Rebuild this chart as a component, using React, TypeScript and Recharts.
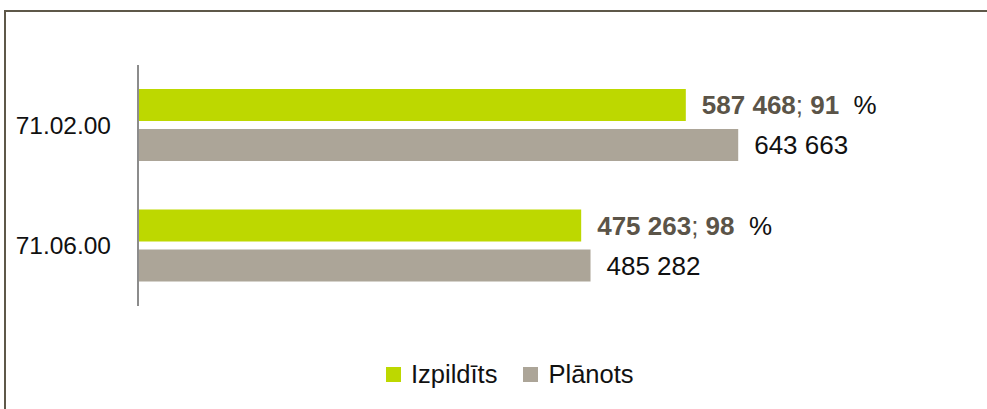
import React from 'react';
import { BarChart, Bar, XAxis, YAxis, Legend, LabelList } from 'recharts';

const categories = ['71.02.00', '71.06.00'];
const executed = [587468, 475263];
const planned = [643663, 485282];
const seriesNames = ['Izpildīts', 'Plānots'];

const GREEN = '#bdd800';
const GREY = '#aca598';
const LABEL_GREY = '#5b5448';
const FONT = '"Liberation Sans", Arial, Helvetica, sans-serif';

const data = categories.map((c, i) => ({
  name: c,
  executed: executed[i],
  planned: planned[i],
  pct: Math.round((executed[i] / planned[i]) * 100),
}));

const fmt = (v: number) => String(v).replace(/\B(?=(\d{3})+(?!\d))/g, ' ');

const ExecLabel = (props: any) => {
  const { x, y, width, height, index } = props;
  const d = data[index];
  return (
    <text
      x={x + width + 16}
      y={y + height / 2}
      dominantBaseline="central"
      fontFamily={FONT}
      fontSize={26}
    >
      <tspan fill={LABEL_GREY} fontWeight="bold">{fmt(d.executed)}</tspan>
      <tspan fill={LABEL_GREY}>; </tspan>
      <tspan fill={LABEL_GREY} fontWeight="bold">{d.pct}</tspan>
      <tspan fill="#111">{'\u00a0 %'}</tspan>
    </text>
  );
};

const PlanLabel = (props: any) => {
  const { x, y, width, height, value } = props;
  return (
    <text
      x={x + width + 16}
      y={y + height / 2}
      dominantBaseline="central"
      fontFamily={FONT}
      fontSize={26}
      fill="#111"
    >
      {fmt(value)}
    </text>
  );
};

const LegendContent = () => (
  <div
    style={{
      display: 'flex',
      alignItems: 'center',
      height: 30,
      fontFamily: FONT,
      fontSize: 25.5,
      color: '#111',
      whiteSpace: 'nowrap',
    }}
  >
    <span style={{ width: 15, height: 15, background: GREEN, display: 'inline-block', marginRight: 10 }} />
    <span style={{ marginRight: 26 }}>{seriesNames[0]}</span>
    <span style={{ width: 15, height: 15, background: GREY, display: 'inline-block', marginRight: 10 }} />
    <span>{seriesNames[1]}</span>
  </div>
);

export default function App() {
  return (
    <div style={{ position: 'absolute', left: 0, top: 0, width: 987, height: 409, background: '#fff', overflow: 'hidden' }}>
      <div
        style={{
          position: 'absolute',
          left: 4,
          top: 10,
          width: 1100,
          height: 500,
          borderTop: '2px solid #5e5849',
          borderLeft: '2px solid #5e5849',
        }}
      />
      <div style={{ position: 'absolute', left: 0, top: 0 }}>
        <BarChart
          width={987}
          height={409}
          data={data}
          layout="vertical"
          margin={{ top: 65, right: 103, bottom: 73, left: 0 }}
          barCategoryGap={24}
          barGap={8}
        >
          <XAxis type="number" domain={[0, 800000]} hide />
          <YAxis
            type="category"
            dataKey="name"
            width={138}
            axisLine={{ stroke: '#8c8c8c', strokeWidth: 2 }}
            tickLine={false}
            tickSize={0}
            tickMargin={27}
            tick={{ fill: '#111', fontSize: 24.5, fontFamily: FONT }}
          />
          <Legend
            verticalAlign="bottom"
            height={30}
            content={<LegendContent />}
            wrapperStyle={{ top: 359, left: 386, width: 'auto', bottom: 'auto' }}
          />
          <Bar dataKey="executed" name={seriesNames[0]} fill={GREEN} barSize={32} isAnimationActive={false}>
            <LabelList dataKey="executed" content={<ExecLabel />} />
          </Bar>
          <Bar dataKey="planned" name={seriesNames[1]} fill={GREY} barSize={32} isAnimationActive={false}>
            <LabelList dataKey="planned" content={<PlanLabel />} />
          </Bar>
        </BarChart>
      </div>
    </div>
  );
}
